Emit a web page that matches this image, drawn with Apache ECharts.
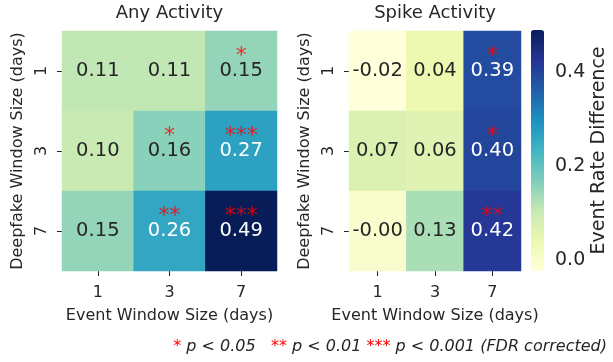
<!DOCTYPE html>
<html>
<head>
<meta charset="utf-8">
<script src="https://cdn.jsdelivr.net/npm/echarts@6/dist/echarts.min.js"></script>
<style>
  html, body { margin: 0; padding: 0; background: #fff; }
  #chart { width: 613px; height: 362px; }
</style>
</head>
<body>
<div id="chart"></div>
<script>
// Window sizes (days)
const eventWindows = ['1', '3', '7'];      // columns
const deepfakeWindows = ['1', '3', '7'];   // rows, top to bottom

// Event rate differences, rows = deepfake window, cols = event window
const anyActivity = [
  [0.11, 0.11, 0.15],
  [0.10, 0.16, 0.27],
  [0.15, 0.26, 0.49]
];
const spikeActivity = [
  [-0.024, 0.04, 0.39],
  [0.07, 0.06, 0.40],
  [-0.004, 0.13, 0.42]
];

// Significance markers (FDR corrected)
const anyStars = [
  ['', '', '*'],
  ['', '*', '***'],
  ['', '**', '***']
];
const spikeStars = [
  ['', '', '*'],
  ['', '', '*'],
  ['', '', '**']
];

const colorbarTicks = [0.0, 0.2, 0.4];

const FONT = 'DejaVu Sans';
const INK = '#262626';
const allValues = anyActivity.flat().concat(spikeActivity.flat());
const vMin = Math.min(...allValues);
const vMax = Math.max(...allValues);

// YlGnBu
const ylgnbu = ['#ffffd9', '#edf8b1', '#c7e9b4', '#7fcdbb', '#41b6c4',
                '#1d91c0', '#225ea8', '#253494', '#081d58'];

function cellData(matrix) {
  const out = [];
  matrix.forEach((row, r) => row.forEach((v, c) => {
    out.push({
      value: [c, r, v],
      label: { color: v > 0.2 ? '#ffffff' : INK }
    });
  }));
  return out;
}
function starData(matrix) {
  const out = [];
  matrix.forEach((row, r) => row.forEach((s, c) => {
    if (s) out.push([c, r, s]);
  }));
  return out;
}

function xAxisFor(gi) {
  return {
    type: 'category', gridIndex: gi, data: eventWindows, position: 'bottom',
    axisLine: { show: false },
    axisTick: { show: true, alignWithLabel: true, length: 5, lineStyle: { color: INK, width: 1 } },
    axisLabel: { fontSize: 16, color: INK, fontFamily: FONT, margin: 14 },
    splitLine: { show: false },
    name: 'Event Window Size (days)', nameLocation: 'middle', nameGap: 37,
    nameTextStyle: { fontSize: 16, color: INK, fontFamily: FONT }
  };
}
function yAxisFor(gi) {
  return {
    type: 'category', gridIndex: gi, data: deepfakeWindows, inverse: true,
    axisLine: { show: false },
    axisTick: { show: true, alignWithLabel: true, length: 5, lineStyle: { color: INK, width: 1 } },
    axisLabel: { fontSize: 16, color: INK, fontFamily: FONT, rotate: 90, margin: 12 },
    splitLine: { show: false },
    name: 'Deepfake Window Size (days)', nameLocation: 'middle', nameGap: 36, nameRotate: 90,
    nameTextStyle: { fontSize: 16, color: INK, fontFamily: FONT }
  };
}

const valueLabel = {
  show: true, fontSize: 19.5, fontFamily: FONT,
  formatter: p => p.value[2].toFixed(2)
};
const starLabel = {
  show: true, position: 'inside', offset: [0, -15],
  fontSize: 22, fontFamily: FONT, color: '#ff0000',
  formatter: p => p.value[2]
};

const chart = echarts.init(document.getElementById('chart'), null, { renderer: 'canvas' });
chart.setOption({
  animation: false,
  backgroundColor: '#ffffff',
  title: [
    { text: 'Any Activity', left: 169.5, top: 4, textAlign: 'center', padding: 0,
      textStyle: { fontSize: 18, fontWeight: 'normal', color: INK, fontFamily: FONT } },
    { text: 'Spike Activity', left: 435, top: 4, textAlign: 'center', padding: 0,
      textStyle: { fontSize: 18, fontWeight: 'normal', color: INK, fontFamily: FONT } }
  ],
  grid: [
    { left: 62, top: 31, width: 215, height: 240 },
    { left: 349, top: 31, width: 172, height: 240 },
    { left: 531, top: 30, width: 13, height: 241 }
  ],
  xAxis: [
    xAxisFor(0),
    xAxisFor(1),
    { type: 'value', gridIndex: 2, show: false, min: 0, max: 1 }
  ],
  yAxis: [
    yAxisFor(0),
    yAxisFor(1),
    {
      type: 'value', gridIndex: 2, position: 'right', min: vMin, max: vMax,
      axisLine: { show: false },
      splitLine: { show: false },
      axisTick: { show: true, length: 5, customValues: colorbarTicks, lineStyle: { color: INK } },
      axisLabel: { fontSize: 19, color: INK, fontFamily: FONT, margin: 11,
                   customValues: colorbarTicks, formatter: v => v.toFixed(1) },
      name: 'Event Rate Difference', nameLocation: 'middle', nameRotate: 90, nameGap: 45,
      nameTextStyle: { fontSize: 19, color: INK, fontFamily: FONT }
    }
  ],
  visualMap: {
    type: 'continuous', min: vMin, max: vMax, seriesIndex: [0, 1], dimension: 2,
    calculable: false, show: true, orient: 'vertical',
    left: 531, top: 30, itemWidth: 13, itemHeight: 241, padding: 0,
    text: null, hoverLink: false,
    inRange: { color: ylgnbu }
  },
  series: [
    { type: 'heatmap', xAxisIndex: 0, yAxisIndex: 0, data: cellData(anyActivity), label: valueLabel,
      itemStyle: { borderWidth: 0 } },
    { type: 'heatmap', xAxisIndex: 1, yAxisIndex: 1, data: cellData(spikeActivity), label: valueLabel,
      itemStyle: { borderWidth: 0 } },
    { type: 'scatter', xAxisIndex: 0, yAxisIndex: 0, symbolSize: 0, data: starData(anyStars), label: starLabel, z: 5 },
    { type: 'scatter', xAxisIndex: 1, yAxisIndex: 1, symbolSize: 0, data: starData(spikeStars), label: starLabel, z: 5 },
    { type: 'line', xAxisIndex: 2, yAxisIndex: 2, data: [], showSymbol: false }
  ],
  graphic: [
    {
      type: 'text', right: 6, top: 339,
      style: {
        text: '{r|*} p < 0.05   {r|**} p < 0.01 {r|***} p < 0.001 (FDR corrected)',
        font: 'italic 16px "DejaVu Sans"',
        fill: INK,
        rich: { r: { fill: '#ff0000', fontSize: 16, fontFamily: FONT } }
      }
    }
  ]
});
</script>
</body>
</html>
